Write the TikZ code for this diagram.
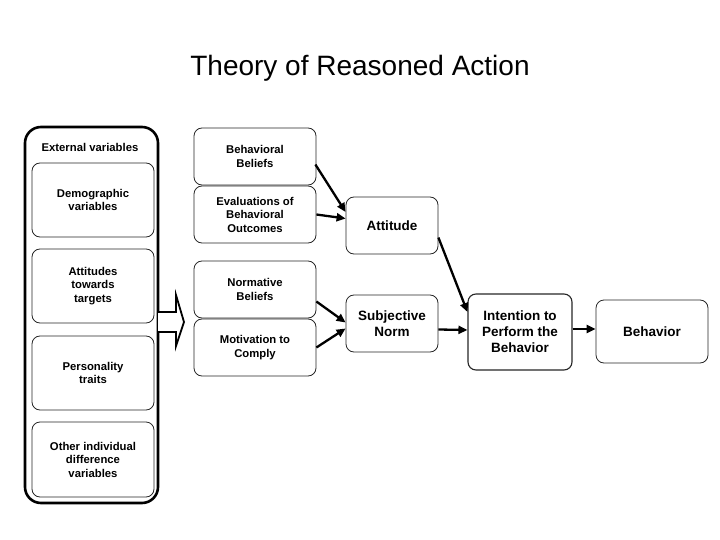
\documentclass[tikz,border=0pt]{standalone}
\usepackage{fontspec}
\setmainfont{Liberation Sans}
\usetikzlibrary{arrows.meta,calc}
\begin{document}
\begin{tikzpicture}[x=1pt,y=-1pt,
  box/.style={draw=black!85,line width=0.8pt,rounded corners=8pt,align=center,
    font=\bfseries\fontsize{11.3}{13.5}\selectfont,inner sep=0pt},
  bigbox/.style={box,font=\bfseries\fontsize{13.5}{16}\selectfont},
  outer/.style={draw=black,line width=2.6pt,rounded corners=16pt,inner sep=0pt},
  arr/.style={line width=2.3pt,-{Triangle[length=9pt,width=8pt]}}]
\useasboundingbox (0,0) rectangle (720,540);
\node (title) at (360,68) {\fontsize{28}{32}\selectfont Theory of Reasoned Action};
% external variables
\node[outer,minimum width=133pt,minimum height=376pt] (ext) at (91.5,315) {};
\node[font=\bfseries\fontsize{11.3}{13}\selectfont] (extl) at (90,147) {External variables};
\node[box,minimum width=122pt,minimum height=74pt] (demo) at (93,200) {Demographic\\variables};
\node[box,minimum width=122pt,minimum height=74pt] (atv) at (93,286) {Attitudes\\towards\\targets};
\node[box,minimum width=122pt,minimum height=74pt] (pers) at (93,373) {Personality\\traits};
\node[box,minimum width=122pt,minimum height=75pt] (oth) at (93,459.5) {Other individual\\difference\\variables};
% block arrow
\draw[line width=1.8pt,fill=white,line join=miter] (158,312) -- (176,312) -- (176,295) -- (184,322)
  -- (176,346) -- (176,332) -- (158,332);
% middle column
\node[box,minimum width=122pt,minimum height=57pt] (bb) at (255,156.5) {Behavioral\\Beliefs};
\node[box,minimum width=122pt,minimum height=57pt] (ev) at (255,214.5) {Evaluations of\\Behavioral\\Outcomes};
\node[box,minimum width=122pt,minimum height=57pt] (nb) at (255,289.5) {Normative\\Beliefs};
\node[box,minimum width=122pt,minimum height=57pt] (mc) at (255,347.5) {Motivation to\\Comply};
\node[bigbox,minimum width=92pt,minimum height=57pt] (attd) at (392,225.5) {Attitude};
\node[bigbox,minimum width=92pt,minimum height=57pt] (sn) at (392,323.5) {Subjective\\Norm};
\node[bigbox,line width=1.1pt,minimum width=104pt,minimum height=76pt] (int) at (520,332) {Intention to\\Perform the\\Behavior};
\node[bigbox,minimum width=112pt,minimum height=63pt] (beh) at (652,331.5) {Behavior};
% arrows
\draw[arr] ($(bb.east)+(-1,8)$) -- ($(attd.west)+(0,-13.5)$);
\draw[arr] (ev.east) -- ($(attd.west)+(0,-7)$);
\draw[arr] ($(nb.east)+(0,12)$) -- ($(sn.west)+(0,-1)$);
\draw[arr] (mc.east) -- ($(sn.west)+(0,5)$);
\draw[arr] ($(attd.east)+(0,12)$) -- ($(int.west)+(0,-20)$);
\draw[arr] ($(sn.east)+(0,6)$) -- ($(int.west)+(0,-2)$);
\draw[arr] ($(int.east)+(0,-3)$) -- ($(beh.west)+(0,-2.5)$);
\end{tikzpicture}
\end{document}
